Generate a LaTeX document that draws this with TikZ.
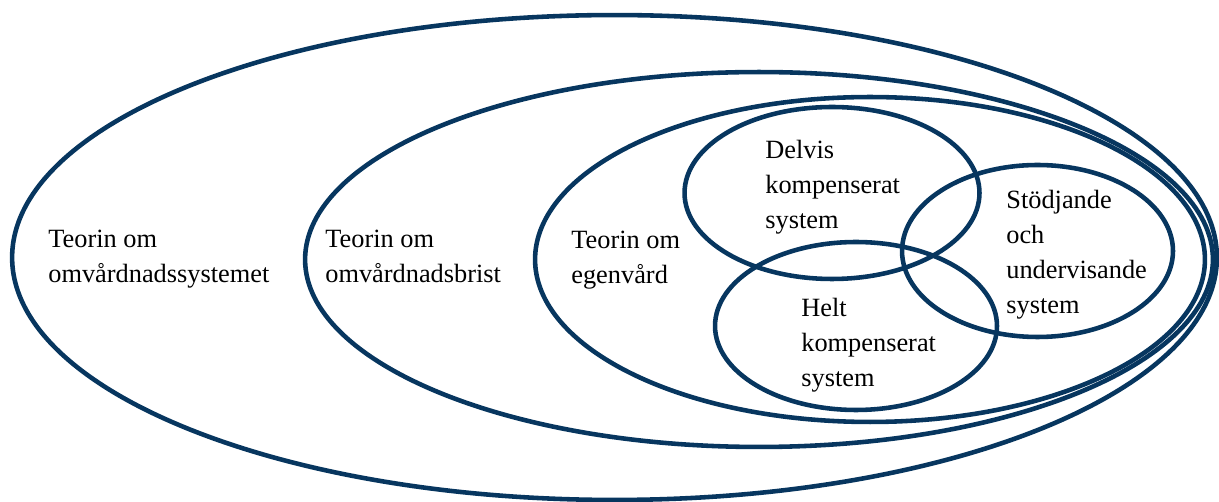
\documentclass[tikz,border=0pt]{standalone}
\usepackage{fontspec}
\setmainfont{Liberation Serif}
\usepackage{xcolor}
\usepackage{tikz}
\usetikzlibrary{shapes.geometric}
\definecolor{sNavy}{HTML}{07365F}
\tikzset{
  ring/.style={draw=sNavy, line width=2.6pt, ellipse, inner sep=0pt},
  lbl/.style={anchor=west, align=left, inner sep=0pt, text=black,
    font=\fontsize{15}{19.9}\selectfont}
}

\begin{document}
\begin{tikzpicture}[x=0.02cm, y=-0.02cm]
  \useasboundingbox (0,0) rectangle (1219,502);
  % nested theories
  \node[ring, minimum width=24.1cm, minimum height=9.7cm] (sys) at (614.5,257.5) {};
  \node[ring, minimum width=18.16cm, minimum height=7.5cm] (brist) at (759,259.5) {};
  \node[ring, minimum width=13.4cm, minimum height=6.5cm] (egen) at (870,259.5) {};
  % nursing systems
  \node[ring, minimum width=5.9cm, minimum height=3.44cm] (delvis) at (832,193) {};
  \node[ring, minimum width=5.64cm, minimum height=3.36cm] (helt) at (856,326) {};
  \node[ring, minimum width=5.42cm, minimum height=3.44cm] (stod) at (1037.5,251) {};
  % labels
  \node[lbl] (sysT) at (48,259.5) {Teorin om\\omvårdnadssystemet};
  \node[lbl] (bristT) at (325,256.5) {Teorin om\\omvårdnadsbrist};
  \node[lbl] (egenT) at (571,260) {Teorin om\\egenvård};
  \node[lbl] (delvisT) at (765,187.5) {Delvis\\kompenserat\\system};
  \node[lbl] (heltT) at (801,345.5) {Helt\\kompenserat\\system};
  \node[lbl] (stodT) at (1006,254.5) {Stödjande\\och\\undervisande\\system};
\end{tikzpicture}
\end{document}
